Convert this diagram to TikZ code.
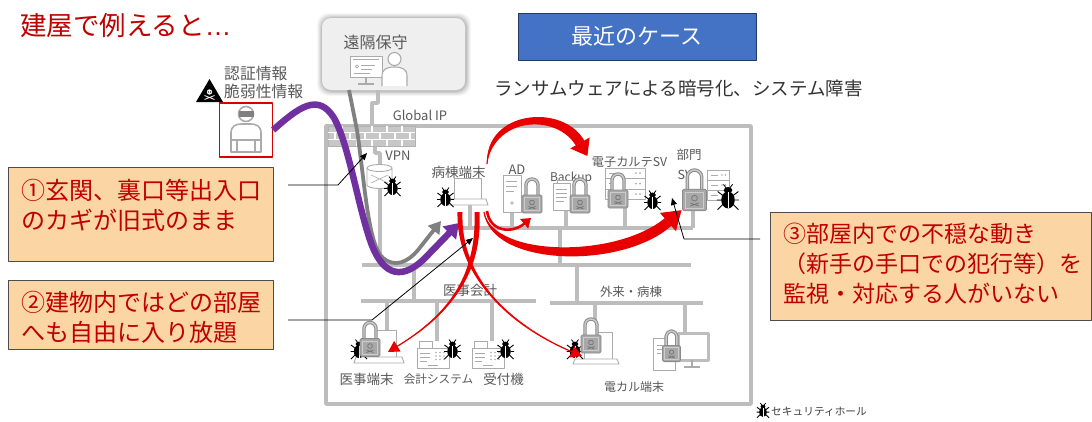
\documentclass[tikz,border=0pt]{standalone}
\usepackage{fontspec}
\setmainfont{Noto Sans CJK JP}
\newfontfamily\latinfont{Liberation Sans}
\usetikzlibrary{arrows.meta}
\definecolor{titlered}{HTML}{C00000}
\definecolor{boxfill}{HTML}{FBD5A3}
\definecolor{casebl}{HTML}{4472C4}
\definecolor{wall}{HTML}{BDBDBD}
\definecolor{icon}{HTML}{ABABAB}
\definecolor{lblc}{HTML}{595959}
\definecolor{atk}{HTML}{7030A0}
\definecolor{hot}{HTML}{E80000}
\definecolor{lockfill}{HTML}{A8A8A8}
\definecolor{lockedge}{HTML}{8A8A8A}
\definecolor{remfill}{HTML}{EFEFEF}
\newcommand\fsz[1]{\fontsize{#1}{#1}\selectfont}

\tikzset{
  lockicon/.pic={
    \fill[white] (-6,-9) -- (-6,-19) arc (180:360:6) -- (6,-9) -- cycle;
    \draw[lockedge,line width=3.4pt] (-6,-9) -- (-6,-19) arc (180:360:6) -- (6,-9);
    \draw[black!20,line width=1.4pt] (-6,-9) -- (-6,-19) arc (180:360:6) -- (6,-9);
    \filldraw[fill=lockfill,draw=lockedge,line width=0.8pt,rounded corners=1.5pt] (-10,-9) rectangle (10,9);
    \draw[black!20,line width=0.6pt] (-7.5,-6.5) rectangle (7.5,6.5);
    \draw[black!55,line width=0.7pt] (0,-1.5) circle (2.4);
    \draw[black!55,line width=0.7pt] (-3.5,2.5) -- (3.5,5) (-3.5,5) -- (3.5,2.5);
  },
  bugicon/.pic={
    \draw[black,line width=0.9pt] (-4,-2) -- (-8,-5) (4,-2) -- (8,-5)
      (-5,1.5) -- (-8.5,1.5) (5,1.5) -- (8.5,1.5) (-4,5) -- (-8,9) (4,5) -- (8,9);
    \fill[black] (0,1.5) ellipse (5.2 and 6.5);
    \fill[black] (0,-6) ellipse (3.3 and 2.4);
    \draw[black,line width=0.8pt] (-1.3,-7.5) -- (-3.5,-10.5) (1.3,-7.5) -- (3.5,-10.5);
    \draw[white,line width=0.5pt] (0,-4.5) -- (0,7.5);
  },
  register/.pic={
    \draw[draw=icon,line width=0.9pt,fill=white] (0,0) rectangle (13,7);
    \draw[draw=icon,line width=0.9pt,fill=white] (-2,7) rectangle (30,27);
    \draw[icon,line width=0.7pt] (1,12) -- (11,12) (1,16) -- (11,16) (1,20) -- (8,20) (9,24) -- (19,24);
    \foreach \i in {0,1,2}{\foreach \j in {0,1,2}{\fill[icon] (17+4*\i,11.5+3.5*\j) circle (0.9);}}
  }
}

\begin{document}
\begin{tikzpicture}[x=1pt,y=-1pt,line join=round,
  wire/.style={draw=wall,line width=3.5pt},
  dev/.style={draw=icon,line width=0.9pt,fill=white},
  lbl/.style={text=lblc,inner sep=0pt},
  note/.style={draw=black!70,line width=1.2pt,fill=boxfill,inner sep=0pt,anchor=north west},
  notetext/.style={anchor=west,align=left,text=titlered,inner sep=0pt},
  callout/.style={draw=black,line width=0.8pt,-{Triangle[length=7pt,width=6pt]}},
  hotline/.style={draw=hot,line width=1.2pt}]

\useasboundingbox (0,0) rectangle (1092,421);
\fill[white] (0,0) rectangle (1092,421);

% ---------- heading and case banner
\node[anchor=west,text=titlered,font=\fsz{26.5},inner sep=0pt] (title) at (20,26) {建屋で例えると{\latinfont …}};
\node[fill=casebl,draw=casebl!50!black,line width=1pt,minimum width=238pt,minimum height=47pt,inner sep=0pt,text=white,font=\fsz{22}] (case) at (637,36.5) {最近のケース};
\node[text=black!80,font=\fsz{18.5},inner sep=0pt] (sub) at (678.5,88) {ランサムウェアによる暗号化、システム障害};

% ---------- remote maintenance
\foreach \d/\o in {5/0.03,4/0.04,3/0.05,2/0.06,1/0.08}
  \fill[black,opacity=\o,rounded corners=11pt] (322-\d,18-\d) rectangle (466+\d,91+\d);
\node[fill=remfill,rounded corners=9pt,minimum width=143pt,minimum height=72pt,inner sep=0pt] (remote) at (393.5,54) {};
\node[lbl,font=\fsz{16}] (remlbl) at (375.5,42) {遠隔保守};
\draw[dev] (350,56) rectangle (382,77);
\draw[icon,line width=0.7pt] (353,59.5) -- (379,59.5) (361,65) -- (375,65) (361,69) -- (372,69) (354,73) -- (370,73);
\draw[icon,line width=0.7pt] (357,66.5) circle (1.6);
\draw[icon,line width=1.2pt] (366,77) -- (366,83) (358,84) -- (374,84);
\draw[dev,line width=1.1pt] (382,86) -- (382,76) .. controls (382,69) and (387,67) .. (394.5,67) .. controls (402,67) and (407,69) .. (407,76) -- (407,86);
\draw[dev,line width=1.1pt] (394.5,59) circle (6.5);

% ---------- attacker
\node[draw=red!85!black,line width=1.3pt,minimum width=53pt,minimum height=54pt,inner sep=0pt] (atkbox) at (246,130) {};
\draw[icon,line width=1.6pt,fill=white] (231,152) -- (231,133) .. controls (231,126) and (236,124) .. (241,124) -- (251,124) .. controls (256,124) and (261,126) .. (261,133) -- (261,152) -- cycle;
\draw[icon,line width=1.2pt] (231,140) -- (261,140) (237,140) -- (237,152) (255,140) -- (255,152);
\draw[icon,line width=1.6pt,fill=white] (246,114) circle (7.5);
\fill[black!50] (238.5,111) rectangle (253.5,116.5);
\fill[black] (196,102) -- (209.5,79) -- (223,102) -- cycle;
\fill[white] (209.5,92) circle (2.7);
\fill[black] (208.4,92) circle (0.7) (210.6,92) circle (0.7);
\draw[white,line width=0.8pt] (204.5,95.5) -- (214.5,99.5) (204.5,99.5) -- (214.5,95.5);
\node[lbl,anchor=west,font=\fsz{15.8}] (cred) at (224,73.5) {認証情報};
\node[lbl,anchor=west,font=\fsz{15.8}] (vuln) at (224,91.5) {脆弱性情報};

% ---------- building wiring
\draw[wire] (378,90) -- (378,103) -- (372,103) -- (372,126);
\draw[wire] (326,126) rectangle (751,404);
\draw[wire] (375,146) -- (375,153) -- (380,153) -- (380,166);
\draw[wire] (380,188) -- (380,265);
\draw[wire] (362,265) -- (691,265);
\draw[wire] (458,228) -- (693,228);
\draw[wire] (470,205) -- (470,228);
\draw[wire] (512,210) -- (512,228) (566,208) -- (566,228) (625,200) -- (625,228) (693,210) -- (693,228);
\draw[wire] (560,228) -- (560,265);
\draw[wire] (414,265) -- (414,301) (361,301) -- (536,301);
\draw[wire] (387,301) -- (387,332) (437,301) -- (437,341) (492,301) -- (492,341);
\draw[wire] (577,265) -- (577,303) (550,303) -- (703,303);
\draw[wire] (595,303) -- (595,332) (685,303) -- (685,333);

% firewall
\node[fill=black!22,draw=black!30,line width=0.8pt,minimum width=87pt,minimum height=20pt,inner sep=0pt] (fw) at (371.5,136) {};
\draw[white,line width=1.1pt] (328,132.7) -- (415,132.7) (328,139.3) -- (415,139.3);
\foreach \x in {342,357,372,387,402}{\draw[white,line width=1.1pt] (\x,126) -- (\x,132.7) (\x,139.3) -- (\x,146);}
\foreach \x in {335,350,365,380,395,410}{\draw[white,line width=1.1pt] (\x,132.7) -- (\x,139.3);}
\node[lbl,font=\fsz{13}] (gip) at (420,115) {Global IP};
\node[lbl,font=\fsz{13}] (vpnlbl) at (398,156) {VPN};

% segment and device labels
\node[lbl,font=\fsz{13.5}] (wardlbl) at (458.5,172) {病棟端末};
\node[lbl,font=\fsz{13}] (adlbl) at (517,170) {AD};
\node[lbl,font=\fsz{12}] (bklbl) at (571,178) {Backup};
\node[lbl,font=\fsz{12.2}] (ekslbl) at (629.5,162) {電子カルテSV};
\node[lbl,font=\fsz{12.5}] (deptlbl) at (689,155) {部門};
\node[lbl,font=\fsz{12.5}] (svlbl) at (685,175) {SV};
\node[lbl,font=\fsz{13.5}] (medlbl) at (470,290) {医事会計};
\node[lbl,font=\fsz{12.4}] (outlbl) at (631,292) {外来・病棟};
\node[lbl,font=\fsz{13.5}] (medtlbl) at (366.5,379) {医事端末};
\node[lbl,font=\fsz{11.6}] (acclbl) at (438.5,379) {会計システム};
\node[lbl,font=\fsz{13.5}] (reclbl) at (503.5,379) {受付機};
\node[lbl,font=\fsz{12}] (ekltlbl) at (634,387) {電カル端末};

% ---------- devices
% VPN router
\draw[dev] (367,168) -- (367,185) arc (180:0:12.5 and 3.5) -- (392,168);
\draw[dev] (379.5,168) ellipse (12.5 and 3.5);
\draw[icon,line width=0.6pt] (371,175) -- (388,183) (371,183) -- (388,175);
% ward terminal
\node[dev,minimum width=27pt,minimum height=21pt,inner sep=0pt] (ward) at (467.5,188.5) {};
\draw[dev] (449,199) -- (486,199) -- (488,205) -- (447,205) -- cycle;
% AD server
\draw[dev] (503,175) rectangle (521,212);
\draw[icon,line width=0.7pt] (506,181) -- (517,181) (506,186) -- (517,186) (506,191) -- (514,191);
\draw[icon,line width=0.7pt] (512,203) circle (1.3);
% backup
\draw[dev] (557,180) rectangle (574,207);
\draw[dev] (553,183) rectangle (570,210);
\draw[icon,line width=0.7pt] (556,189) -- (567,189) (556,193) -- (567,193) (556,197) -- (567,197) (556,201) -- (564,201);
% EMR server
\foreach \y in {168,178.5,189}{
  \draw[dev] (605,\y) rectangle (645,\y+10.5);
  \draw[icon,line width=0.7pt] (609,\y+5.2) -- (622,\y+5.2);
  \fill[icon] (636,\y+5.2) circle (1) (640,\y+5.2) circle (1);}
% department server
\foreach \y in {170,180,190}{
  \draw[dev] (707,\y) rectangle (729,\y+10);
  \draw[icon,line width=0.7pt] (711,\y+5) -- (718,\y+5);
  \fill[icon] (722,\y+5) circle (0.9) (725.5,\y+5) circle (0.9);}
% medical terminal
\draw[dev] (363,330) rectangle (396,357);
\draw[dev] (356,357) -- (402,357) -- (404,363) -- (354,363) -- cycle;
% registers
\pic at (419,341) {register};
\pic at (474,341) {register};
% EMR terminal
\draw[dev] (584,332) rectangle (612,359);
\draw[dev] (575,359) -- (617,359) -- (619,364) -- (573,364) -- cycle;
% desktop
\draw[dev] (653,338) rectangle (675,370);
\draw[icon,line width=0.7pt] (657,345) -- (663,345) (657,349) -- (663,349) (657,353) -- (661,353);
\draw[draw=wall,line width=3pt,fill=white] (678,333) rectangle (708,360);
\draw[icon,line width=1.5pt] (692,360) -- (692,366) (684,367) -- (700,367);

% bugs partly hidden behind locks
\pic at (359,350) {bugicon};
\pic at (575,350) {bugicon};

% locks
\pic at (532,204) {lockicon};
\pic at (580,204) {lockicon};
\pic at (618,199) {lockicon};
\pic[scale=1.2] at (694.5,200) {lockicon};
\pic at (370,347.5) {lockicon};
\pic at (591,344) {lockicon};
\pic[scale=0.9] at (671.5,353.5) {lockicon};

% security holes
\pic at (392.5,187) {bugicon};
\pic at (445.5,198) {bugicon};
\pic at (652.5,201) {bugicon};
\pic[scale=1.3] at (728,198) {bugicon};
\pic at (452.5,350) {bugicon};
\pic at (505.5,350) {bugicon};
\pic[scale=0.75] at (763,411) {bugicon};
\node[anchor=west,text=black!75,font=\fsz{10.7},inner sep=0pt] (holelbl) at (771,412) {セキュリティホール};

% ---------- intrusion paths
\coordinate (gstart) at (349,90);
\coordinate (gtip) at (441,221);
\draw[draw=black!50,line width=3.8pt,-{Triangle[length=12pt,width=14pt]}] (gstart) -- (357,130) .. controls (365,185) and (368,245) .. (383,258) .. controls (395,268) and (408,262) .. (418,250) -- (gtip);
\coordinate (ptip) at (459,223);
\draw[draw=atk,line width=6.5pt,-{Triangle[length=14pt,width=18pt]}] (atkbox.east) .. controls (298,108) and (318,92) .. (334,118) .. controls (348,142) and (358,205) .. (370,240) .. controls (380,270) and (398,285) .. (425,258) -- (ptip);

% ---------- lateral movement from the ward terminal
\coordinate (r1s) at (487,164);
\coordinate (r1t) at (587.4,156);
\fill[hot] (r1s) .. controls (485,110) and (563,103) .. (584.3,140.6) -- (575.7,145.4) .. controls (557,114) and (495,116) .. (r1s) -- cycle;
\draw[hotline,-{Triangle[length=15pt,width=22pt]}] (r1s) .. controls (490,112) and (560,108) .. (r1t);
\coordinate (r3s) at (484,212);
\coordinate (r3t) at (681.5,210.2);
\fill[hot] (r3s) .. controls (490,267) and (622,270) .. (671.3,225.8) -- (664.7,218.2) .. controls (617,258) and (494,258) .. (r3s) -- cycle;
\draw[hotline,-{Triangle[length=18pt,width=24pt]}] (r3s) .. controls (492,262) and (620,264) .. (r3t);
\coordinate (r2s) at (487,211);
\coordinate (r2t) at (531,218);
\draw[draw=hot,line width=2.6pt,-{Triangle[length=9pt,width=12pt]}] (r2s) .. controls (490,232) and (512,234) .. (r2t);
\coordinate (r4t) at (388,352);
\fill[hot] (474.5,212) .. controls (477,285) and (440,320) .. (r4t) .. controls (440,320) and (483,285) .. (479.5,212) -- cycle;
\draw[hotline,-{Triangle[length=11pt,width=12pt]}] (477,212) .. controls (480,285) and (440,320) .. (r4t);
\coordinate (r5t) at (582,356);
\fill[hot] (457.5,212) .. controls (456,285) and (520,330) .. (r5t) .. controls (520,330) and (460,285) .. (462.5,212) -- cycle;
\draw[hotline,-{Triangle[length=11pt,width=12pt]}] (460,212) .. controls (458,285) and (520,330) .. (r5t);

% ---------- notes
\node[note,minimum width=265pt,minimum height=94pt] (box1) at (8,167) {};
\node[notetext,font=\fontsize{24}{30}\selectfont] (t1) at (21,205) {①玄関、裏口等出入口\\のカギが旧式のまま};
\node[note,minimum width=265pt,minimum height=69pt] (box2) at (8,280) {};
\node[notetext,font=\fontsize{24}{30}\selectfont] (t2) at (21,317) {②建物内ではどの部屋\\へも自由に入り放題};
\node[note,minimum width=321pt,minimum height=108pt] (box3) at (770,212) {};
\node[notetext,font=\fontsize{23}{30}\selectfont] (t3) at (783,264) {③部屋内での不穏な動き\\（新手の手口での犯行等）を\\監視・対応する人がいない};

% callout leaders
\coordinate (c1s) at (288,185);
\coordinate (c1t) at (367,153);
\draw[callout] (c1s) -- (338,185) -- (c1t);
\coordinate (c2s) at (288,320);
\coordinate (c2t) at (473,238);
\draw[callout] (c2s) -- (372,320) -- (c2t);
\coordinate (c3s) at (760,239);
\coordinate (c3t) at (672,198);
\draw[callout] (c3s) -- (684,239) -- (c3t);
\end{tikzpicture}
\end{document}
